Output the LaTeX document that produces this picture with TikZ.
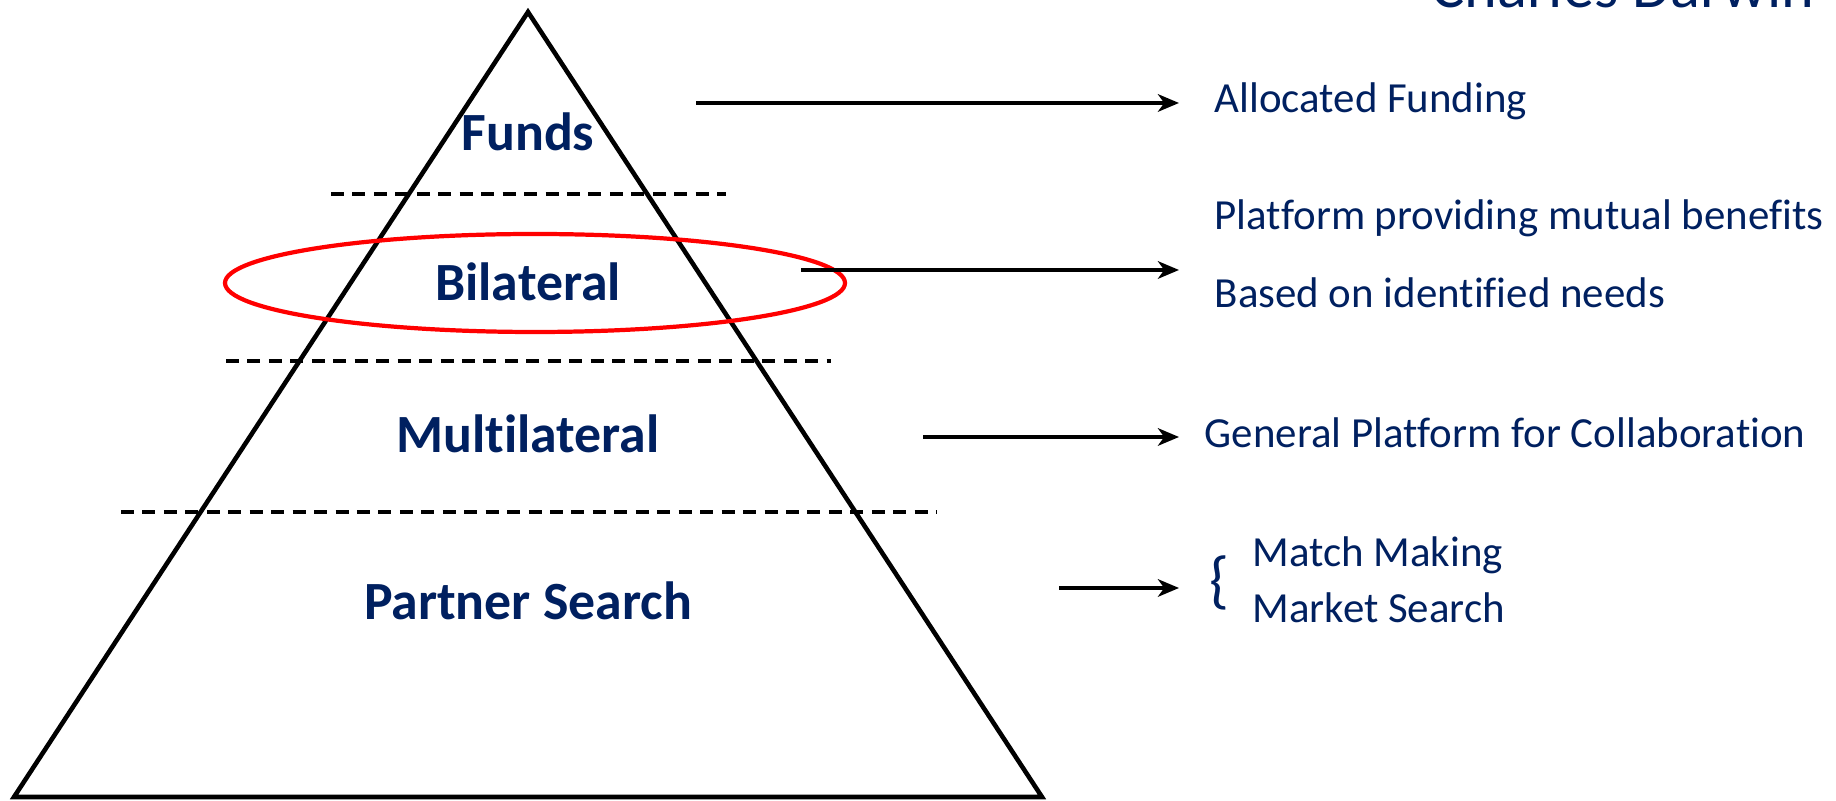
\documentclass[tikz,border=0pt]{standalone}
\usepackage{fontspec}
\setmainfont{Carlito}[Ligatures=NoCommon]
\usetikzlibrary{arrows.meta}
\definecolor{navy}{RGB}{0,32,96}
\begin{document}
\begin{tikzpicture}[x=0.01cm,y=-0.01cm]
\tikzstyle{lvl}=[text=navy, font=\fontsize{15.3}{18}\selectfont\bfseries]
\tikzstyle{txt}=[text=navy, anchor=west, inner sep=0pt, font=\fontsize{12.2}{15}\selectfont]
\tikzstyle{sep}=[line width=1.2pt, dash pattern=on 3.7pt off 2.4pt]
\tikzstyle{arr}=[-{Stealth[length=6pt, width=5pt, inset=1.8pt]}, line width=1pt]
\useasboundingbox (0,0) rectangle (1836,801);

% pyramid
\coordinate (top) at (528,12);
\coordinate (bl) at (14,797);
\coordinate (br) at (1042,797);
\draw[line width=1.3pt] (top) -- (br) -- (bl) -- cycle;

\draw[sep] (331,194) -- (726,194);
\draw[sep] (226,361) -- (831,361);
\draw[sep] (121,512) -- (937,512);

% levels
\node[lvl] (F) at (528,132) {Funds};
\node[lvl] (B) at (528,282) {Bilateral};
\node[lvl] (M) at (528,434) {Multilateral};
\node[lvl] (P) at (528,601) {Partner Search};
\draw[red, line width=1.2pt] (535,283) ellipse [x radius=310, y radius=49];

% descriptions
\node[txt] (F1) at (1214,101) {Allocated Funding};
\node[txt] (B1) at (1214,218) {Platform providing mutual benefits};
\node[txt] (B2) at (1214,293) {Based on identified needs};
\node[txt] (M1) at (1204,433) {General Platform for Collaboration};
\node[text=navy, font=\fontsize{18}{18}\selectfont, inner sep=0pt] (br1) at (1219,583) {\{};
\node[txt] (P1) at (1252,555) {Match Making};
\node[txt] (P2) at (1252,608) {Market Search};

\coordinate (fa) at (696,103);  \coordinate (fb) at (1179,103);
\coordinate (ba) at (801,270);  \coordinate (bb) at (1179,270);
\coordinate (ma) at (923,437);  \coordinate (mb) at (1179,437);
\coordinate (pa) at (1059,588); \coordinate (pb) at (1179,588);
\draw[arr] (fa) -- (fb);
\draw[arr] (ba) -- (bb);
\draw[arr] (ma) -- (mb);
\draw[arr] (pa) -- (pb);

\node[text=navy, anchor=base east, inner sep=0pt, font=\fontsize{17.7}{20}\selectfont] (CD) at (1815,8) {Charles Darwin};
\end{tikzpicture}
\end{document}
